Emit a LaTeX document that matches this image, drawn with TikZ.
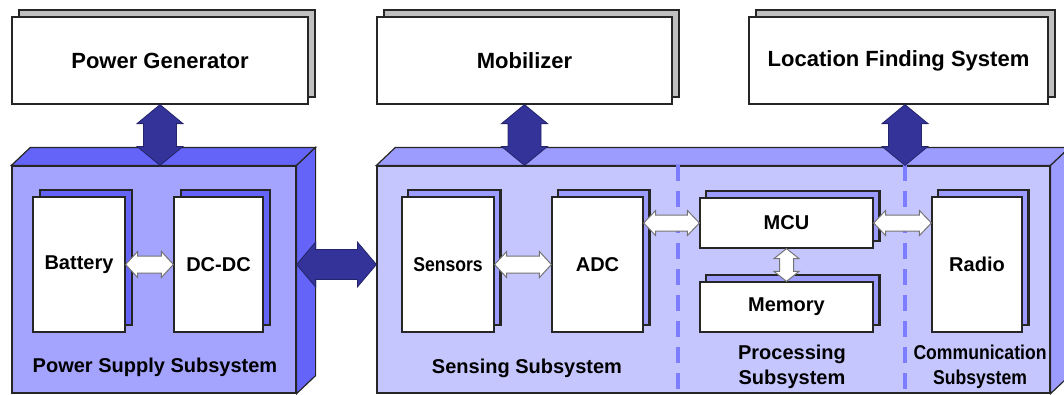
\documentclass[tikz,border=0pt]{standalone}
\usepackage{fontspec}
\usepackage{graphicx}
\setmainfont{Liberation Sans}
\usepackage{tikz}
\usetikzlibrary{calc, shadows}

\definecolor{psufront}{HTML}{A4A4FF}
\definecolor{psuface}{HTML}{6464F8}
\definecolor{sensfront}{HTML}{C6C6FF}
\definecolor{sensface}{HTML}{9C9CFF}
\definecolor{darkarr}{HTML}{333399}
\definecolor{greyshadow}{HTML}{C0C0C0}

\tikzstyle{topbox} = [draw=black!85, line width=1.2pt, fill=white, rectangle, inner sep=0pt,
    font=\fontsize{22}{26}\selectfont\bfseries,
    copy shadow={fill=greyshadow, draw=black!85, shadow xshift=7pt, shadow yshift=7pt}]
\tikzstyle{psubox} = [draw=black!85, line width=1.2pt, fill=white, rectangle, inner sep=0pt,
    font=\fontsize{20}{24}\selectfont\bfseries,
    copy shadow={fill=psuface, draw=black!85, shadow xshift=7pt, shadow yshift=7pt}]
\tikzstyle{sensbox} = [psubox, copy shadow={fill=sensface, draw=black!85, shadow xshift=6pt, shadow yshift=7pt}]
\tikzstyle{front} = [draw=black!85, line width=1.2pt, rectangle, inner sep=0pt]
\tikzstyle{lbl} = [font=\fontsize{20}{25}\selectfont\bfseries, align=center]
\tikzstyle{divider} = [line width=3.5pt, color=sensface!80!blue, dash pattern=on 16pt off 10pt]
\tikzstyle{fatarrow} = [fill=darkarr, draw=darkarr!70!black, line width=0.8pt, line join=miter]
\tikzstyle{thinarrow} = [fill=white, draw=black!55, line width=1pt, line join=miter]

% double arrows drawn between two points: style, from, to, shaft half, head half, head length
\newcommand{\harrow}[6]{\draw[#1] (#2) -- ($(#2)+(#6,-#5)$) -- ($(#2)+(#6,-#4)$) -- ($(#3)+(-#6,-#4)$) -- ($(#3)+(-#6,-#5)$) -- (#3) -- ($(#3)+(-#6,#5)$) -- ($(#3)+(-#6,#4)$) -- ($(#2)+(#6,#4)$) -- ($(#2)+(#6,#5)$) -- cycle;}
\newcommand{\varrow}[6]{\draw[#1] (#2) -- ($(#2)+(#5,#6)$) -- ($(#2)+(#4,#6)$) -- ($(#3)+(#4,-#6)$) -- ($(#3)+(#5,-#6)$) -- (#3) -- ($(#3)+(-#5,-#6)$) -- ($(#3)+(-#4,-#6)$) -- ($(#2)+(-#4,#6)$) -- ($(#2)+(-#5,#6)$) -- cycle;}
\newcommand{\narrowtxt}[1]{\scalebox{0.88}[1]{#1}}

\begin{document}
\begin{tikzpicture}[x=1pt, y=-1pt]
    \path[use as bounding box, clip] (0,0) rectangle (1064,394);

    % top row
    \node[topbox, minimum width=296pt, minimum height=87pt] (pg) at (160,60.5) {Power Generator};
    \node[topbox, minimum width=295pt, minimum height=87pt] (mob) at (524.5,60.5) {Mobilizer};
    \node[topbox, minimum width=299pt, minimum height=87pt] (lfs) at (898.5,60.5) {Location Finding System};

    % power supply block
    \node[front, fill=psufront, minimum width=284pt, minimum height=227pt] (psu) at (154,279.5) {};
    \draw[front, fill=psuface] (psu.north west) -- ++(19,-18) -- ($(psu.north east)+(19,-18)$) -- (psu.north east) -- cycle;
    \draw[front, fill=psuface] (psu.north east) -- ++(19,-18) -- ($(psu.south east)+(19,-18)$) -- (psu.south east) -- cycle;

    % sensing / processing / communication block
    \node[front, fill=sensfront, minimum width=673pt, minimum height=227pt] (sens) at (713.5,279.5) {};
    \draw[front, fill=sensface] (sens.north west) -- ++(19,-18) -- ($(sens.north east)+(19,-18)$) -- (sens.north east) -- cycle;
    \draw[front, fill=sensface] (sens.north east) -- ++(19,-18) -- ($(sens.south east)+(19,-18)$) -- (sens.south east) -- cycle;

    \coordinate (d1) at (678,0);
    \coordinate (d2) at (905,0);
    \draw[divider] (d1 |- sens.north) -- (d1 |- sens.south);
    \draw[divider] (d2 |- sens.north) -- (d2 |- sens.south);

    % inner blocks
    \node[psubox, minimum width=92pt, minimum height=135pt] (bat) at (79,264.5) {Battery};
    \node[psubox, minimum width=89pt, minimum height=135pt] (dcdc) at (218.5,264.5) {DC-DC};
    \node[sensbox, minimum width=92pt, minimum height=135pt] (sensors) at (448,264.5) {\narrowtxt{Sensors}};
    \node[sensbox, minimum width=91pt, minimum height=135pt] (adc) at (597.5,264.5) {ADC};
    \node[sensbox, minimum width=173pt, minimum height=50pt] (mcu) at (786.5,223) {MCU};
    \node[sensbox, minimum width=173pt, minimum height=50pt] (mem) at (786.5,307) {Memory};
    \node[sensbox, minimum width=90pt, minimum height=135pt] (radio) at (977,264.5) {Radio};

    % subsystem labels
    \node[lbl] (psulbl) at (155,367) {Power Supply Subsystem};
    \node[lbl] (senslbl) at (527,368) {Sensing Subsystem};
    \node[lbl] (proclbl) at (792,367) {Processing\\Subsystem};
    \node[lbl] (commlbl) at (980,367) {\narrowtxt{Communication}\\\narrowtxt{Subsystem}};

    % connections
    \varrow{fatarrow}{pg.south}{pg.south |- psu.north}{16.5}{23}{19}
    \varrow{fatarrow}{mob.south}{mob.south |- sens.north}{16.5}{23}{19}
    \varrow{fatarrow}{d2 |- lfs.south}{d2 |- sens.north}{16.5}{23}{19}
    \harrow{fatarrow}{psu.east |- bat}{sens.west |- bat}{15}{22.5}{19}
    \harrow{thinarrow}{bat.east}{dcdc.west}{8.5}{13}{12}
    \harrow{thinarrow}{sensors.east}{adc.west}{8.5}{13}{12}
    \harrow{thinarrow}{adc.east |- mcu}{mcu.west}{8}{12.5}{12}
    \harrow{thinarrow}{mcu.east}{radio.west |- mcu}{8}{12.5}{12}
    \varrow{thinarrow}{mcu.south}{mem.north}{7}{12.5}{10}
\end{tikzpicture}
\end{document}
